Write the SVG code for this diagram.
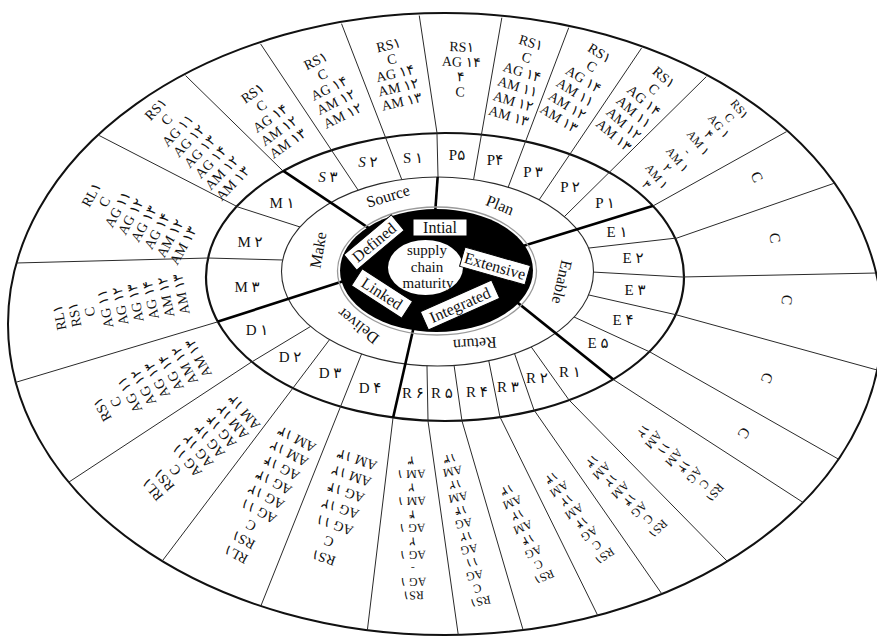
<svg xmlns="http://www.w3.org/2000/svg" width="877" height="637" viewBox="0 0 877 637">
<defs>
<style>
text{font-family:"Liberation Serif","DejaVu Sans",serif;fill:#111;text-anchor:middle;dominant-baseline:central}
tspan{dominant-baseline:central}
.o{font-size:14px}
.d{font-size:12px}
.c{font-size:15px}
.pr{font-size:16px}
.lv{font-size:16px}
.mid{font-size:15px}
.thin{stroke:#2a2a2a;stroke-width:1;fill:none}
.thick{stroke:#000;stroke-width:2.6;fill:none}
.box{fill:#fff;stroke:#000;stroke-width:1}
</style>
<clipPath id="cBoth"><path clip-rule="evenodd" d="M8,325a437,310 0 1,0 874,0a437,310 0 1,0 -874,0ZM281.5,271.5a156,94.5 0 1,0 312,0a156,94.5 0 1,0 -312,0Z"/></clipPath>
<clipPath id="cRing"><path clip-rule="evenodd" d="M8,325a437,310 0 1,0 874,0a437,310 0 1,0 -874,0ZM206,277a239,144 0 1,0 478,0a239,144 0 1,0 -478,0Z"/></clipPath>
<clipPath id="cSub"><path clip-rule="evenodd" d="M206,277a239,144 0 1,0 478,0a239,144 0 1,0 -478,0ZM281.5,271.5a156,94.5 0 1,0 312,0a156,94.5 0 1,0 -312,0Z"/></clipPath>
<clipPath id="cIn2"><ellipse cx="445" cy="277" rx="239" ry="144"/></clipPath>
<clipPath id="cIn3"><ellipse cx="437.5" cy="271.5" rx="156" ry="94.5"/></clipPath>
</defs>
<rect width="877" height="637" fill="#fff"/>
<g id="rings">
<ellipse cx="445" cy="324" rx="437" ry="311" fill="#fff" stroke="#111" stroke-width="2"/>
<ellipse cx="445" cy="277" rx="239" ry="144" fill="none" stroke="#111" stroke-width="2.2"/>
<ellipse cx="437.5" cy="271.5" rx="156" ry="94.5" fill="none" stroke="#2a2a2a" stroke-width="1.1"/>
</g>
<g id="connectors">
<g class="thin" clip-path="url(#cBoth)">
<path d="M505.4,-2.7L470.6,196.7"/>
<path d="M576.1,8.3L501.9,203.7"/>
<path d="M656.2,26.4L527.8,216.6"/>
<path d="M721.2,62L550.8,230"/>
<path d="M252.6,626.6L367.4,339.4"/>
<path d="M150.9,576L339.1,327"/>
<path d="M248.9,26.4L369.1,206.6"/>
<path d="M334.8,6.3L409.2,198.7"/>
</g>
<g class="thin" clip-path="url(#cRing)">
<path d="M416,-6L440,152.8"/>
<path d="M853.9,176.4L658.1,244.6"/>
<path d="M897,272.6L662,277.4"/>
<path d="M896.3,375.3L657.7,309.7"/>
<path d="M857.4,469.9L632.6,342.1"/>
<path d="M743,577.3L555,385.7"/>
<path d="M675.4,613.4L522.6,393.6"/>
<path d="M607.8,635.9L491.2,399.1"/>
<path d="M529.6,652.2L456.4,401.8"/>
<path d="M460.8,652.8L425.2,401.2"/>
<path d="M55.3,491L266.7,352"/>
<path d="M-3,263.5L228,257.5"/>
<path d="M84.2,127.8L255.8,216.2"/>
<path d="M801.5,123.3L635.5,215.7"/>
<path d="M820.8,513.9L597.2,369.1"/>
<path d="M364.6,652.9L395.4,398.1"/>
<path d="M-2.2,387.7L236.2,316.3"/>
<path d="M170.7,61L296.3,184"/>
</g>
<g class="thin" clip-path="url(#cSub)">
<path d="M436.5,113L438.5,197"/>
<path d="M696.9,235.7L569.1,250.3"/>
<path d="M702,278.1L572,270.9"/>
<path d="M696.5,319.4L569.5,290.6"/>
<path d="M668.2,360.4L555.8,308.6"/>
<path d="M580.6,416.3L520.4,331.7"/>
<path d="M540.5,428.9L508.5,336.1"/>
<path d="M503.9,436.6L485.1,342.4"/>
<path d="M464.8,440.8L451.2,345.2"/>
<path d="M428.4,441L426.6,345"/>
<path d="M232.9,373.3L325.1,317.7"/>
<path d="M188,257.5L302,260.5"/>
<path d="M219,200.9L319,233.1"/>
</g>
<g class="thick" clip-path="url(#cIn2)">
<path d="M672,200L510,250"/>
<path d="M629.6,392.5L505,292.6"/>
<path d="M388.6,437.5L416,317"/>
<path d="M198,328L350,279"/>
<path d="M265.4,158.9L377,233.7"/>
</g>
<g class="thick" clip-path="url(#cIn3)">
<path d="M438.5,165L434.5,222"/>
</g>
</g>
<g id="core">
<ellipse cx="437" cy="271" rx="99.5" ry="64" fill="none" stroke="#9a9a9a" stroke-width="1.3"/>
<ellipse cx="436.5" cy="270.5" rx="96.5" ry="61.5" fill="#000"/>
<ellipse cx="425.5" cy="267.5" rx="37.5" ry="27.5" fill="#fff"/>
<text class="mid"><tspan x="427" y="250">supply</tspan><tspan x="427" y="266.5">chain</tspan><tspan x="428" y="283">maturity</tspan></text>
</g>
<g id="level-intial"><rect class="box" x="413" y="219" width="54" height="17"/><text class="lv" x="440" y="227.5">Intial</text></g>
<g id="level-defined" transform="translate(374 242.5) rotate(-40)"><rect class="box" x="-31" y="-10" width="62" height="20"/><text class="lv" x="0" y="0">Defined</text></g>
<g id="level-linked" transform="translate(382 293.5) rotate(33)"><rect class="box" x="-30" y="-10" width="60" height="20"/><text class="lv" x="0" y="0">Linked</text></g>
<g id="level-extensive" transform="translate(495 266) rotate(16)"><rect class="box" x="-34" y="-10" width="68" height="20"/><text class="lv" x="0" y="0">Extensive</text></g>
<g id="level-integrated" transform="translate(460 305) rotate(-24)"><rect class="box" x="-39" y="-10" width="78" height="20"/><text class="lv" x="0" y="0">Integrated</text></g>
<g id="proc-source"><text class="pr" transform="translate(388 196) rotate(-17)">Source</text></g>
<g id="proc-plan"><text class="pr" transform="translate(500 205) rotate(22)">Plan</text></g>
<g id="proc-make"><text class="pr" transform="translate(318 250) rotate(-80)">Make</text></g>
<g id="proc-enable"><text class="pr" transform="translate(562 282) rotate(103)">Enable</text></g>
<g id="proc-return"><text class="pr" transform="translate(475 344) rotate(176)">Return</text></g>
<g id="proc-deliver"><text class="pr" transform="translate(358 326) rotate(218)">Deliver</text></g>
<g id="codes">
<g id="code-S3"><text class="c" x="328" y="177"><tspan font-style="italic">S</tspan> ۳</text></g>
<g id="code-S2"><text class="c" x="368" y="162"><tspan font-style="italic">S</tspan> ۲</text></g>
<g id="code-S1"><text class="c" x="413" y="158">S ۱</text></g>
<g id="code-P5"><text class="c" x="457" y="155">P۵</text></g>
<g id="code-P4"><text class="c" x="495" y="160">P۴</text></g>
<g id="code-P3"><text class="c" x="533" y="172">P ۳</text></g>
<g id="code-P2"><text class="c" x="570" y="187">P ۲</text></g>
<g id="code-P1"><text class="c" x="605" y="203">P ۱</text></g>
<g id="code-E1"><text class="c" x="617" y="232">E ۱</text></g>
<g id="code-E2"><text class="c" x="633" y="258">E ۲</text></g>
<g id="code-E3"><text class="c" x="635" y="290">E ۳</text></g>
<g id="code-E4"><text class="c" x="623" y="320">E ۴</text></g>
<g id="code-E5"><text class="c" x="598" y="343">E ۵</text></g>
<g id="code-R1"><text class="c" x="570" y="372">R ۱</text></g>
<g id="code-R2"><text class="c" x="537" y="378">R ۲</text></g>
<g id="code-R3"><text class="c" x="508" y="387">R ۳</text></g>
<g id="code-R4"><text class="c" x="477" y="392">R ۴</text></g>
<g id="code-R5"><text class="c" x="442" y="393">R ۵</text></g>
<g id="code-R6"><text class="c" x="413" y="393">R ۶</text></g>
<g id="code-D4"><text class="c" x="370" y="388">D ۴</text></g>
<g id="code-D3"><text class="c" x="330" y="373">D ۳</text></g>
<g id="code-D2"><text class="c" x="290" y="357">D ۲</text></g>
<g id="code-D1"><text class="c" x="257" y="330">D ۱</text></g>
<g id="code-M3"><text class="c" x="247" y="287">M ۳</text></g>
<g id="code-M2"><text class="c" x="250" y="242">M ۲</text></g>
<g id="code-M1"><text class="c" x="282" y="203">M ۱</text></g>
</g>
<g id="cells">
<g id="cell-S1"><text class="o" transform="translate(395 73) rotate(-13)"><tspan x="0" y="-29">RS۱</tspan><tspan x="0" y="-14.5">C</tspan><tspan x="0" y="0">AG ۱۴</tspan><tspan x="0" y="14.5">AM ۱۲</tspan><tspan x="0" y="29">AM ۱۳</tspan></text></g>
<g id="cell-S2"><text class="o" transform="translate(329 88) rotate(-26)"><tspan x="0" y="-30.6">RS۱</tspan><tspan x="0" y="-15.3">C</tspan><tspan x="0" y="0">AG ۱۴</tspan><tspan x="0" y="15.3">AM ۱۲</tspan><tspan x="0" y="30.6">AM ۱۲</tspan></text></g>
<g id="cell-S3"><text class="o" transform="translate(270 118) rotate(-35)"><tspan x="0" y="-30.6">RS۱</tspan><tspan x="0" y="-15.3">C</tspan><tspan x="0" y="0">AG ۱۴</tspan><tspan x="0" y="15.3">AM ۱۲</tspan><tspan x="0" y="30.6">AM ۱۳</tspan></text></g>
<g id="cell-P5"><text class="o" transform="translate(461 69) rotate(2)"><tspan x="0" y="-22.5">RS۱</tspan><tspan x="0" y="-7.5">AG ۱۴</tspan><tspan x="0" y="7.5">۴</tspan><tspan x="0" y="22.5">C</tspan></text></g>
<g id="cell-P4"><text class="o" transform="translate(520 79) rotate(17)"><tspan x="0" y="-38.25">RS۱</tspan><tspan x="0" y="-22.95">C</tspan><tspan x="0" y="-7.65">AG ۱۴</tspan><tspan x="0" y="7.65">AM ۱۱</tspan><tspan x="0" y="22.95">AM ۱۲</tspan><tspan x="0" y="38.25">AM ۱۳</tspan></text></g>
<g id="cell-P3"><text class="o" transform="translate(579.5 85.5) rotate(32)"><tspan x="0" y="-38.5">RS۱</tspan><tspan x="0" y="-23.1">C</tspan><tspan x="0" y="-7.7">AG ۱۴</tspan><tspan x="0" y="7.7">AM ۱۱</tspan><tspan x="0" y="23.1">AM ۱۲</tspan><tspan x="0" y="38.5">AM ۱۳</tspan></text></g>
<g id="cell-P2"><text class="o" transform="translate(639 106) rotate(41)"><tspan x="0" y="-38.25">RS۱</tspan><tspan x="0" y="-22.95">C</tspan><tspan x="0" y="-7.65">AG ۱۴</tspan><tspan x="0" y="7.65">AM ۱۱</tspan><tspan x="0" y="22.95">AM ۱۲</tspan><tspan x="0" y="38.25">AM ۱۳</tspan></text></g>
<g id="cell-P1"><text class="d" transform="translate(693 147) rotate(51)"><tspan x="0" y="-60">RS۱</tspan><tspan x="0" y="-46.7">C</tspan><tspan x="0" y="-33.3">AG ۱</tspan><tspan x="0" y="-20">۴</tspan><tspan x="0" y="-6.7">AM ۱</tspan><tspan x="0" y="6.7">-</tspan><tspan x="0" y="20">AM ۱</tspan><tspan x="0" y="33.3">۲</tspan><tspan x="0" y="46.7">AM ۱</tspan><tspan x="0" y="60">۳</tspan></text></g>
<g id="cell-E1"><text class="c" transform="translate(757 177) rotate(65)">C</text></g>
<g id="cell-E2"><text class="c" transform="translate(775 238) rotate(81)">C</text></g>
<g id="cell-E3"><text class="c" transform="translate(787 300) rotate(98)">C</text></g>
<g id="cell-E4"><text class="c" transform="translate(767 378) rotate(112)">C</text></g>
<g id="cell-E5"><text class="c" transform="translate(744 433) rotate(121)">C</text></g>
<g id="cell-R1"><text class="d" transform="translate(679 462) rotate(131)"><tspan x="0" y="-47.25">RS۱</tspan><tspan x="0" y="-33.75">C</tspan><tspan x="0" y="-20.25">AG</tspan><tspan x="0" y="-6.75">۱۴</tspan><tspan x="0" y="6.75">AM</tspan><tspan x="0" y="20.25">۱۱</tspan><tspan x="0" y="33.75">AM</tspan><tspan x="0" y="47.25">۱۲</tspan></text></g>
<g id="cell-R2"><text class="d" transform="translate(625 495) rotate(136)"><tspan x="0" y="-47.25">RS۱</tspan><tspan x="0" y="-33.75">C</tspan><tspan x="0" y="-20.25">AG</tspan><tspan x="0" y="-6.75">۱۴</tspan><tspan x="0" y="6.75">AM</tspan><tspan x="0" y="20.25">۱۲</tspan><tspan x="0" y="33.75">AM</tspan><tspan x="0" y="47.25">۱۳</tspan></text></g>
<g id="cell-R3"><text class="d" transform="translate(578 517) rotate(146)"><tspan x="0" y="-47.25">RS۱</tspan><tspan x="0" y="-33.75">C</tspan><tspan x="0" y="-20.25">AG</tspan><tspan x="0" y="-6.75">۱۴</tspan><tspan x="0" y="6.75">AM</tspan><tspan x="0" y="20.25">۱۲</tspan><tspan x="0" y="33.75">AM</tspan><tspan x="0" y="47.25">۱۳</tspan></text></g>
<g id="cell-R4"><text class="d" transform="translate(525.5 533.5) rotate(157)"><tspan x="0" y="-47.25">RS۱</tspan><tspan x="0" y="-33.75">C</tspan><tspan x="0" y="-20.25">AG</tspan><tspan x="0" y="-6.75">۱۴</tspan><tspan x="0" y="6.75">AM</tspan><tspan x="0" y="20.25">۱۲</tspan><tspan x="0" y="33.75">AM</tspan><tspan x="0" y="47.25">۱۳</tspan></text></g>
<g id="cell-R5"><text class="d" transform="translate(465 530) rotate(168)"><tspan x="0" y="-73.15">RS۱</tspan><tspan x="0" y="-59.85">C</tspan><tspan x="0" y="-46.55">AG</tspan><tspan x="0" y="-33.25">۱۱</tspan><tspan x="0" y="-19.95">AG</tspan><tspan x="0" y="-6.65">۱۲</tspan><tspan x="0" y="6.65">AG</tspan><tspan x="0" y="19.95">۱۴</tspan><tspan x="0" y="33.25">AM</tspan><tspan x="0" y="46.55">۱۲</tspan><tspan x="0" y="59.85">AM</tspan><tspan x="0" y="73.15">۱۳</tspan></text></g>
<g id="cell-R6"><text class="d" transform="translate(412 528) rotate(179)"><tspan x="0" y="-67.5">RS۱</tspan><tspan x="0" y="-54">AG ۱</tspan><tspan x="0" y="-40.5">-</tspan><tspan x="0" y="-27">AG ۱</tspan><tspan x="0" y="-13.5">۲</tspan><tspan x="0" y="0">AG ۱</tspan><tspan x="0" y="13.5">۴</tspan><tspan x="0" y="27">AM ۱</tspan><tspan x="0" y="40.5">۲</tspan><tspan x="0" y="54">AM ۱</tspan><tspan x="0" y="67.5">۳</tspan></text></g>
<g id="cell-D4"><text class="o" transform="translate(340 509) rotate(-161)"><tspan x="0" y="-51.9">RS۱</tspan><tspan x="0" y="-34.6">C</tspan><tspan x="0" y="-17.3">AG ۱۱</tspan><tspan x="0" y="0">AG ۱۲</tspan><tspan x="0" y="17.3">AG ۱۴</tspan><tspan x="0" y="34.6">AM ۱۲</tspan><tspan x="0" y="51.9">AM ۱۳</tspan></text></g>
<g id="cell-D3"><text class="o" transform="translate(266 497) rotate(-152)"><tspan x="0" y="-65.2">RL۱</tspan><tspan x="0" y="-48.9">RS۱</tspan><tspan x="0" y="-32.6">C</tspan><tspan x="0" y="-16.3">AG ۱۱</tspan><tspan x="0" y="0">AG ۱۲</tspan><tspan x="0" y="16.3">AG ۱۳</tspan><tspan x="0" y="32.6">AG ۱۴</tspan><tspan x="0" y="48.9">AM ۱۲</tspan><tspan x="0" y="65.2">AM ۱۳</tspan></text></g>
<g id="cell-D2"><text class="o" transform="translate(198 451) rotate(-130)"><tspan x="0" y="-60">RL۱</tspan><tspan x="0" y="-45">RS۱</tspan><tspan x="0" y="-30">C</tspan><tspan x="0" y="-15">AG ۱۱</tspan><tspan x="0" y="0">AG ۱۲</tspan><tspan x="0" y="15">AG ۱۳</tspan><tspan x="0" y="30">AG ۱۴</tspan><tspan x="0" y="45">AM ۱۲</tspan><tspan x="0" y="60">AM ۱۳</tspan></text></g>
<g id="cell-D1"><text class="o" transform="translate(150 384) rotate(-118)"><tspan x="0" y="-54.6">RS۱</tspan><tspan x="0" y="-39">C</tspan><tspan x="0" y="-23.4">AG ۱۱</tspan><tspan x="0" y="-7.8">AG ۱۲</tspan><tspan x="0" y="7.8">AG ۱۳</tspan><tspan x="0" y="23.4">AG ۱۴</tspan><tspan x="0" y="39">AM ۱۲</tspan><tspan x="0" y="54.6">AM ۱۳</tspan></text></g>
<g id="cell-M3"><text class="o" transform="translate(120 306) rotate(-101)"><tspan x="0" y="-62">RL۱</tspan><tspan x="0" y="-46.5">RS۱</tspan><tspan x="0" y="-31">C</tspan><tspan x="0" y="-15.5">AG ۱۱</tspan><tspan x="0" y="0">AG ۱۲</tspan><tspan x="0" y="15.5">AG ۱۳</tspan><tspan x="0" y="31">AG ۱۴</tspan><tspan x="0" y="46.5">AM ۱۲</tspan><tspan x="0" y="62">AM ۱۳</tspan></text></g>
<g id="cell-M2"><text class="o" transform="translate(137 220) rotate(-61)"><tspan x="0" y="-52.5">RL۱</tspan><tspan x="0" y="-37.5">C</tspan><tspan x="0" y="-22.5">AG ۱۱</tspan><tspan x="0" y="-7.5">AG ۱۲</tspan><tspan x="0" y="7.5">AG ۱۳</tspan><tspan x="0" y="22.5">AG ۱۴</tspan><tspan x="0" y="37.5">AM ۱۲</tspan><tspan x="0" y="52.5">AM ۱۳</tspan></text></g>
<g id="cell-M1"><text class="o" transform="translate(194 146) rotate(-46)"><tspan x="0" y="-53.55">RS۱</tspan><tspan x="0" y="-38.25">C</tspan><tspan x="0" y="-22.95">AG ۱۱</tspan><tspan x="0" y="-7.65">AG ۱۲</tspan><tspan x="0" y="7.65">AG ۱۳</tspan><tspan x="0" y="22.95">AG ۱۴</tspan><tspan x="0" y="38.25">AM ۱۲</tspan><tspan x="0" y="53.55">AM ۱۳</tspan></text></g>
</g>
</svg>
